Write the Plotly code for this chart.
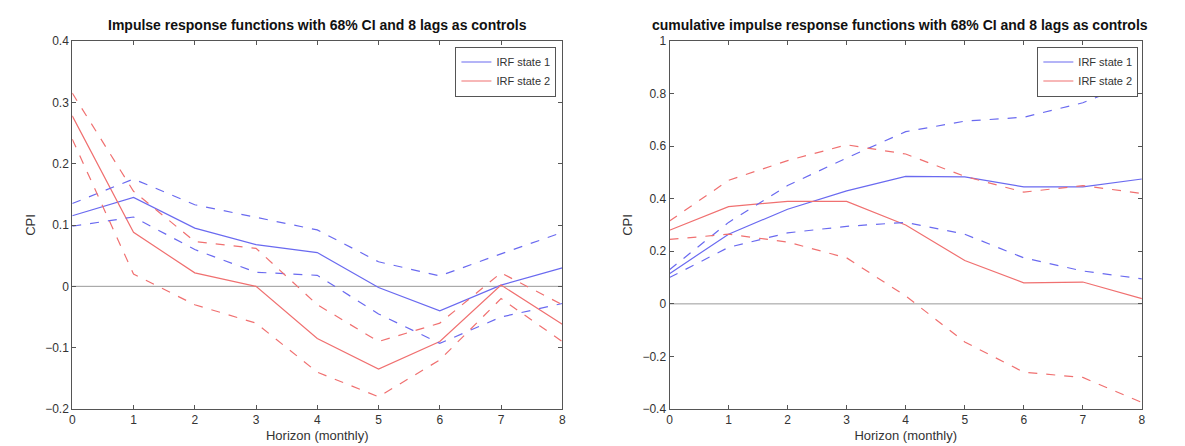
import plotly.graph_objects as go

h = list(range(9))
# left panel: IRF
l_b_mid = [0.115, 0.145, 0.095, 0.068, 0.055, -0.002, -0.04, 0.002, 0.03]
l_b_up = [0.135, 0.175, 0.133, 0.113, 0.092, 0.04, 0.017, 0.053, 0.088]
l_b_lo = [0.098, 0.113, 0.06, 0.023, 0.018, -0.045, -0.093, -0.05, -0.028]
l_r_mid = [0.278, 0.088, 0.022, 0.0, -0.085, -0.135, -0.09, 0.002, -0.062]
l_r_up = [0.315, 0.155, 0.073, 0.062, -0.03, -0.09, -0.06, 0.022, -0.03]
l_r_lo = [0.24, 0.02, -0.03, -0.06, -0.14, -0.18, -0.12, -0.02, -0.09]
# right panel: cumulative IRF
r_b_mid = [0.115, 0.265, 0.36, 0.43, 0.485, 0.483, 0.445, 0.445, 0.475]
r_b_up = [0.13, 0.31, 0.45, 0.555, 0.655, 0.695, 0.71, 0.765, 0.855]
r_b_lo = [0.1, 0.215, 0.27, 0.295, 0.31, 0.265, 0.175, 0.125, 0.095]
r_r_mid = [0.28, 0.37, 0.39, 0.39, 0.3, 0.165, 0.08, 0.083, 0.02]
r_r_up = [0.315, 0.47, 0.545, 0.605, 0.57, 0.485, 0.425, 0.45, 0.42]
r_r_lo = [0.245, 0.265, 0.235, 0.175, 0.03, -0.145, -0.26, -0.28, -0.375]

BLUE = "#6a6af0"
RED = "#f07070"
fig = go.Figure()

def add(xa, ya, mid_b, up_b, lo_b, mid_r, up_r, lo_r, leg):
    fig.add_trace(go.Scatter(x=h, y=[0]*9, mode="lines", line=dict(color="#999999", width=1),
                             xaxis=xa, yaxis=ya, showlegend=False, hoverinfo="skip"))
    fig.add_trace(go.Scatter(x=h, y=mid_b, mode="lines", name="IRF state 1", line=dict(color=BLUE, width=1.2),
                             xaxis=xa, yaxis=ya, legend=leg))
    fig.add_trace(go.Scatter(x=h, y=mid_r, mode="lines", name="IRF state 2", line=dict(color=RED, width=1.2),
                             xaxis=xa, yaxis=ya, legend=leg))
    for y, c in [(up_b, BLUE), (lo_b, BLUE), (up_r, RED), (lo_r, RED)]:
        fig.add_trace(go.Scatter(x=h, y=y, mode="lines", line=dict(color=c, width=1.2, dash="dash"),
                                 xaxis=xa, yaxis=ya, showlegend=False))

add("x", "y", l_b_mid, l_b_up, l_b_lo, l_r_mid, l_r_up, l_r_lo, "legend")
add("x2", "y2", r_b_mid, r_b_up, r_b_lo, r_r_mid, r_r_up, r_r_lo, "legend2")

ax = dict(showgrid=False, zeroline=False, showline=True, mirror="ticks", linecolor="#555555",
          ticks="inside", ticklen=4, tickcolor="#555555", tickfont=dict(size=12, color="#333333"))
tf = dict(family="Liberation Sans, Arial", size=13, color="#333333")
fig.update_layout(
    width=1185, height=446, paper_bgcolor="white", plot_bgcolor="white",
    margin=dict(l=0, r=0, t=33, b=45),
    font=dict(family="Liberation Sans, Arial", color="#333333"),
    xaxis=dict(ax, domain=[0.052, 0.468], range=[0, 8], dtick=1,
               title=dict(text="Horizon (monthly)", font=tf, standoff=4)),
    yaxis=dict(ax, range=[-0.2, 0.4], dtick=0.1, tickformat="~g",
               title=dict(text="CPI", font=tf, standoff=6)),
    xaxis2=dict(ax, domain=[0.559, 0.960], range=[0, 8], dtick=1, anchor="y2",
                title=dict(text="Horizon (monthly)", font=tf, standoff=4)),
    yaxis2=dict(ax, range=[-0.4, 1], dtick=0.2, tickformat="~g", anchor="x2",
                title=dict(text="CPI", font=tf, standoff=6)),
    legend=dict(x=0.463, y=0.985, xanchor="right", yanchor="top", bordercolor="#555555", borderwidth=1,
                bgcolor="white", font=dict(size=11)),
    legend2=dict(x=0.957, y=0.985, xanchor="right", yanchor="top", bordercolor="#555555", borderwidth=1,
                 bgcolor="white", font=dict(size=11)),
    annotations=[
        dict(text="<b>Impulse response functions with 68% CI and 8 lags as controls</b>", x=0.26, y=1.0,
             xref="paper", yref="paper", xanchor="center", yanchor="bottom", showarrow=False, yshift=6,
             font=dict(size=14, color="#111")),
        dict(text="<b>cumulative impulse response functions with 68% CI and 8 lags as controls</b>", x=0.755, y=1.0,
             xref="paper", yref="paper", xanchor="center", yanchor="bottom", showarrow=False, yshift=6,
             font=dict(size=14, color="#111")),
    ],
)
fig.write_html("out.html")
